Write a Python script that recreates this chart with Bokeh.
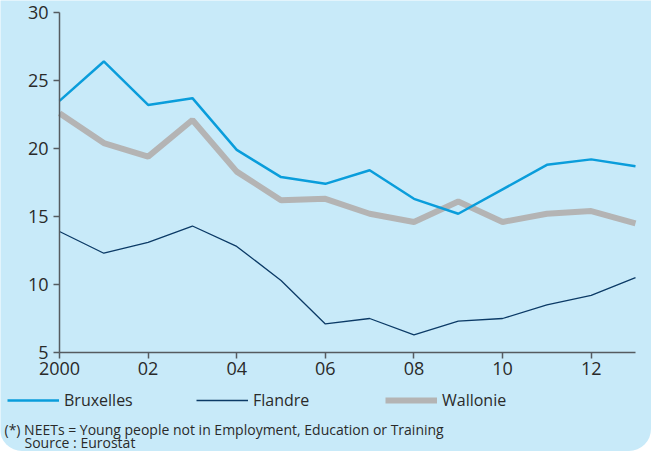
from bokeh.plotting import figure
from bokeh.models import Legend, LegendItem, Label, FixedTicker, LinearAxis, Range1d
from bokeh.embed import file_html
from bokeh.resources import INLINE

years = list(range(2000, 2014))
bruxelles = [23.5, 26.4, 23.2, 23.7, 19.9, 17.9, 17.4, 18.4, 16.3, 15.2, 17.0, 18.8, 19.2, 18.7]
flandre = [13.9, 12.3, 13.1, 14.3, 12.8, 10.3, 7.1, 7.5, 6.3, 7.3, 7.5, 8.5, 9.2, 10.5]
wallonie = [22.6, 20.4, 19.4, 22.1, 18.3, 16.2, 16.3, 15.2, 14.6, 16.1, 14.6, 15.2, 15.4, 14.5]
x_ticks = [2000, 2002, 2004, 2006, 2008, 2010, 2012]
x_tick_labels = ["2000", "02", "04", "06", "08", "10", "12"]
y_ticks = [5, 10, 15, 20, 25, 30]
series_names = ["Bruxelles", "Flandre", "Wallonie"]
footnote1 = "(*) NEETs = Young people not in Employment, Education or Training"
footnote2 = "Source : Eurostat"

BG = "#c8eaf9"
FONT = "Open Sans"
TXT = "#2a2a2a"
AX = "#555b60"
COLORS = {"Bruxelles": "#0a9ddb", "Flandre": "#0b3a66", "Wallonie": "#b4b4b4"}
WIDTHS = {"Bruxelles": 2.5, "Flandre": 1.3, "Wallonie": 6}

# canvas 651x451; plot area: x 59..635, y 12..352 (pixels)
W, H = 651, 451
FL, FR, FT, FB = 59, 635, 12, 352
x0, x1 = years[0], years[-1]
y0, y1 = 5, 30
xs = (FR - FL) / (x1 - x0)
ys = (FB - FT) / (y1 - y0)

p = figure(width=W, height=H, output_backend="svg", toolbar_location=None,
           x_axis_location=None, y_axis_location=None,
           x_range=Range1d(x0 - FL / xs, x1 + (W - FR) / xs),
           y_range=Range1d(y0 - (H - FB) / ys, y1 + FT / ys),
           min_border=0, min_border_left=0, min_border_right=0,
           min_border_top=0, min_border_bottom=0)
p.background_fill_color = BG
p.border_fill_color = BG
p.outline_line_color = None
p.grid.grid_line_color = None
p.grid.visible = False
p.styles = {"border-radius": "0 0 22px 22px", "overflow": "hidden"}

xaxis = LinearAxis(fixed_location=y0, bounds=(x0, x1), ticker=FixedTicker(ticks=x_ticks),
                   major_label_overrides={t: l for t, l in zip(x_ticks, x_tick_labels)},
                   major_label_standoff=3)
yaxis = LinearAxis(fixed_location=x0, bounds=(y0, y1), ticker=FixedTicker(ticks=y_ticks),
                   major_label_standoff=5)
for ax in (xaxis, yaxis):
    ax.axis_line_color = AX
    ax.axis_line_width = 1.5
    ax.major_tick_line_color = AX
    ax.major_tick_line_width = 1.5
    ax.major_tick_out = 6
    ax.major_tick_in = 0
    ax.minor_tick_line_color = None
    ax.major_label_text_font = FONT
    ax.major_label_text_font_size = "18px"
    ax.major_label_text_color = TXT
p.add_layout(xaxis, "below")
p.add_layout(yaxis, "left")

data = {"Bruxelles": bruxelles, "Flandre": flandre, "Wallonie": wallonie}
renderers = {}
for name in ["Wallonie", "Flandre", "Bruxelles"]:
    renderers[name] = p.line(years, data[name], line_color=COLORS[name], line_width=WIDTHS[name])

legend = Legend(items=[LegendItem(label=n, renderers=[renderers[n]]) for n in series_names],
                orientation="horizontal", location=(7, 40),
                glyph_width=52, glyph_height=16, label_height=16, label_width=132,
                label_standoff=5, spacing=0, padding=0, margin=0,
                border_line_color=None, background_fill_alpha=0,
                label_text_font=FONT, label_text_font_size="16px", label_text_color=TXT)
p.add_layout(legend, "center")

p.add_layout(Label(x=x0 + (4 - FL) / xs, y=y0 - (429 - FB) / ys, text=footnote1, text_font=FONT,
                   text_font_size="14px", text_color=TXT, text_baseline="alphabetic"))
p.add_layout(Label(x=x0 + (24 - FL) / xs, y=y0 - (442 - FB) / ys, text=footnote2, text_font=FONT,
                   text_font_size="14px", text_color=TXT, text_baseline="alphabetic"))

open("out.html", "w").write(file_html(p, INLINE))
